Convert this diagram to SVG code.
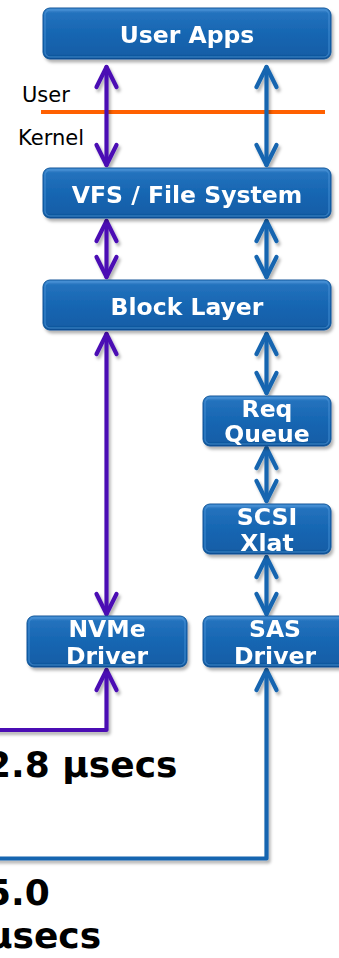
<svg xmlns="http://www.w3.org/2000/svg" width="339" height="958" viewBox="0 0 339 958">
  <defs>
    <style>
      .box { fill: url(#boxFill); stroke: #0f5599; stroke-width: 1; }
      .bevel { fill: none; stroke: #4c95d8; stroke-opacity: 0.55; stroke-width: 1.5; }
      .lbl { font-family: "DejaVu Sans", Verdana, sans-serif; font-weight: bold; font-size: 23.5px; fill: #ffffff; text-anchor: middle; }
      .side { font-family: "DejaVu Sans", Verdana, sans-serif; font-size: 21px; fill: #000000; }
      .time { font-family: "DejaVu Sans", Verdana, sans-serif; font-weight: bold; font-size: 36px; fill: #000000; }
      .purple { fill: none; stroke: #4b0db4; stroke-width: 4.2; stroke-linecap: round; stroke-linejoin: round; }
      .blue { fill: none; stroke: #1565b0; stroke-width: 4.2; stroke-linecap: round; stroke-linejoin: round; }
      .pa { marker-start: url(#headP); marker-end: url(#headP); }
      .ba { marker-start: url(#headB); marker-end: url(#headB); }
    </style>
    <linearGradient id="boxFill" x1="0" y1="0" x2="0" y2="1">
      <stop offset="0" stop-color="#4c95d8"/>
      <stop offset="0.1" stop-color="#2472bd"/>
      <stop offset="0.5" stop-color="#1666b2"/>
      <stop offset="0.9" stop-color="#135fa8"/>
      <stop offset="1" stop-color="#0c4b8c"/>
    </linearGradient>
    <filter id="shadow" filterUnits="userSpaceOnUse" x="-30" y="-30" width="420" height="1020">
      <feGaussianBlur in="SourceAlpha" stdDeviation="1.6"/>
      <feOffset dx="1.5" dy="3" result="blur"/>
      <feFlood flood-color="#000000" flood-opacity="0.3"/>
      <feComposite in2="blur" operator="in"/>
      <feMerge>
        <feMergeNode/>
        <feMergeNode in="SourceGraphic"/>
      </feMerge>
    </filter>
    <marker id="headP" markerUnits="userSpaceOnUse" orient="auto-start-reverse" overflow="visible" markerWidth="1" markerHeight="1">
      <path d="M-20,-10 L0,0 L-20,10" fill="none" stroke="#4b0db4" stroke-width="4.2" stroke-linecap="round" stroke-linejoin="round"/>
    </marker>
    <marker id="headB" markerUnits="userSpaceOnUse" orient="auto-start-reverse" overflow="visible" markerWidth="1" markerHeight="1">
      <path d="M-20,-10 L0,0 L-20,10" fill="none" stroke="#1565b0" stroke-width="4.2" stroke-linecap="round" stroke-linejoin="round"/>
    </marker>
  </defs>

  <rect width="339" height="958" fill="#ffffff"/>

  <!-- user / kernel boundary -->
  <g id="boundary">
    <line x1="41" y1="112" x2="325" y2="112" stroke="#ff6000" stroke-width="4"/>
    <text class="side" x="22" y="102">User</text>
    <text class="side" x="18" y="145">Kernel</text>
  </g>

  <!-- connectors -->
  <g id="connectors" filter="url(#shadow)">
    <path class="purple pa" d="M106.5,67 V165"/>
    <path class="purple pa" d="M106.5,221 V277"/>
    <path class="purple pa" d="M106.5,334 V614"/>
    <path class="purple" marker-start="url(#headP)" d="M106.5,670 V730 H-10"/>
    <path class="blue ba" d="M266.5,67 V165"/>
    <path class="blue ba" d="M266.5,221 V277"/>
    <path class="blue ba" d="M266.5,334 V393"/>
    <path class="blue ba" d="M266.5,448 V501"/>
    <path class="blue ba" d="M266.5,557 V614"/>
    <path class="blue" marker-start="url(#headB)" d="M266.5,670 V858.5 H-10"/>
  </g>

  <!-- nodes -->
  <g id="user-apps" filter="url(#shadow)">
    <rect class="box" x="43" y="8" width="288" height="51" rx="7"/>
    <rect class="bevel" x="45" y="10" width="284" height="47" rx="5"/>
    <text class="lbl" x="187" y="43">User Apps</text>
  </g>
  <g id="vfs" filter="url(#shadow)">
    <rect class="box" x="43" y="168" width="288" height="50" rx="7"/>
    <rect class="bevel" x="45" y="170" width="284" height="46" rx="5"/>
    <text class="lbl" x="187" y="203">VFS / File System</text>
  </g>
  <g id="block-layer" filter="url(#shadow)">
    <rect class="box" x="43" y="280" width="288" height="50" rx="7"/>
    <rect class="bevel" x="45" y="282" width="284" height="46" rx="5"/>
    <text class="lbl" x="187" y="315">Block Layer</text>
  </g>
  <g id="req-queue" filter="url(#shadow)">
    <rect class="box" x="203" y="396" width="128" height="50" rx="7"/>
    <rect class="bevel" x="205" y="398" width="124" height="46" rx="5"/>
    <text class="lbl" x="267" y="417">Req</text>
    <text class="lbl" x="267" y="442">Queue</text>
  </g>
  <g id="scsi-xlat" filter="url(#shadow)">
    <rect class="box" x="203" y="504" width="128" height="50" rx="7"/>
    <rect class="bevel" x="205" y="506" width="124" height="46" rx="5"/>
    <text class="lbl" x="267" y="525">SCSI</text>
    <text class="lbl" x="267" y="551">Xlat</text>
  </g>
  <g id="nvme-driver" filter="url(#shadow)">
    <rect class="box" x="27" y="616" width="160" height="51" rx="7"/>
    <rect class="bevel" x="29" y="618" width="156" height="47" rx="5"/>
    <text class="lbl" x="107" y="637">NVMe</text>
    <text class="lbl" x="107" y="664">Driver</text>
  </g>
  <g id="sas-driver" filter="url(#shadow)">
    <rect class="box" x="203" y="616" width="144" height="51" rx="7"/>
    <rect class="bevel" x="205" y="618" width="140" height="47" rx="5"/>
    <text class="lbl" x="275" y="637">SAS</text>
    <text class="lbl" x="275" y="664">Driver</text>
  </g>

  <!-- latency labels -->
  <g id="latency">
    <text class="time" x="-14" y="777">2.8 µsecs</text>
    <text class="time" x="-14" y="905">5.0</text>
    <text class="time" x="-14" y="948">µsecs</text>
  </g>
</svg>
